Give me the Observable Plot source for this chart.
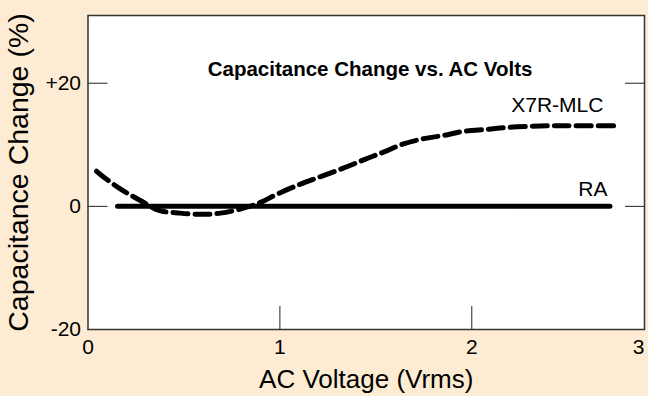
<!DOCTYPE html>
<html>
<head>
<meta charset="utf-8">
<script src="https://cdn.jsdelivr.net/npm/d3@7"></script>
<script src="https://cdn.jsdelivr.net/npm/@observablehq/plot@0.6"></script>
<style>
  html, body { margin: 0; padding: 0; background: #fdecd3; }
  #chart svg { display: block; }
</style>
</head>
<body>
<div id="chart"></div>
<script>
// X7R-MLC capacitance change (%) vs AC voltage (Vrms)
const x7rVolts = [0.045, 0.076, 0.17, 0.27, 0.37, 0.48, 0.59, 0.69, 0.81, 0.90, 0.98, 1.09, 1.20, 1.33, 1.44, 1.54, 1.64, 1.75, 1.85, 1.96, 2.08, 2.18, 2.31, 2.43, 2.54, 2.74];
const x7rChange = [5.7, 4.9, 2.8, 1.0, -0.65, -1.1, -1.3, -1.1, -0.3, 0.65, 1.9, 3.4, 4.7, 6.2, 7.6, 8.8, 10.1, 11.0, 11.5, 12.2, 12.5, 12.8, 13.0, 13.1, 13.1, 13.1];
// RA capacitance change (%)
const raVolts = [0.154, 2.72];
const raChange = [0, 0];

const xTicks = [0, 1, 2, 2.9];
const xTickLabels = ["0", "1", "2", "3"];
const yTicks = [-20, 0, 20];
const yTickLabels = ["-20", "0", "+20"];

const titleText = ["Capacitance Change vs. AC Volts"];
const seriesLabels = ["X7R-MLC", "RA"];
const titleAt = [{x: 1.47, y: 22.3, text: titleText[0]}];
const seriesLabelAt = [
  {x: 2.686, y: 16.4, text: seriesLabels[0]},
  {x: 2.707, y: 2.7, text: seriesLabels[1]}
];

const x7r = x7rVolts.map((v, i) => ({v, c: x7rChange[i]}));
const ra = raVolts.map((v, i) => ({v, c: raChange[i]}));

const font = "'Liberation Sans', Arial, Helvetica, sans-serif";
const fmtX = d => xTickLabels[xTicks.indexOf(d)];

const chart = Plot.plot({
  width: 648,
  height: 396,
  marginLeft: 87.5,
  marginRight: 4,
  marginTop: 15,
  marginBottom: 67,
  style: {background: "#fdecd3", fontFamily: font, color: "#000"},
  x: {domain: [0, 2.9]},
  y: {domain: [-20, 31]},
  marks: [
    Plot.frame({fill: "#fff", stroke: "none"}),
    // inward ticks
    Plot.axisY({ticks: yTicks, anchor: "left", tickSize: -20, tickFormat: () => "", label: null, stroke: "#222"}),
    Plot.axisY({ticks: yTicks.filter(d => d > -20), anchor: "right", tickSize: -20, tickFormat: () => "", label: null, stroke: "#222"}),
    Plot.axisX({ticks: [1, 2], anchor: "bottom", tickSize: -23, tickFormat: () => "", label: null, stroke: "#222"}),
    // tick labels
    Plot.axisY({ticks: yTicks, anchor: "left", tickSize: 0, tickPadding: 7, fontSize: 21,
      tickFormat: d => yTickLabels[yTicks.indexOf(d)], label: null}),
    Plot.axisX({ticks: xTicks.slice(0, 3), anchor: "bottom", tickSize: 0, tickPadding: 10, fontSize: 21,
      tickFormat: fmtX, label: null}),
    Plot.axisX({ticks: xTicks.slice(3), anchor: "bottom", tickSize: 0, tickPadding: 10, fontSize: 21,
      tickFormat: fmtX, label: null, dx: -6}),
    // axis titles
    Plot.axisY({ticks: [], anchor: "left", label: "Capacitance Change (%)", labelAnchor: "center",
      labelArrow: "none", labelOffset: 80, fontSize: 28.5}),
    Plot.axisX({ticks: [], anchor: "bottom", label: "AC Voltage (Vrms)", labelAnchor: "center",
      labelArrow: "none", labelOffset: 58, fontSize: 26}),
    Plot.frame({stroke: "#333", strokeWidth: 1.5}),
    Plot.line(ra, {x: "v", y: "c", stroke: "#000", strokeWidth: 5}),
    Plot.line(x7r, {x: "v", y: "c", stroke: "#000", strokeWidth: 5, strokeDasharray: "15,7", curve: "catmull-rom"}),
    Plot.text(titleAt, {x: "x", y: "y", text: "text", textAnchor: "middle", fontWeight: "bold", fontSize: 20.5, fill: "#000"}),
    Plot.text(seriesLabelAt, {x: "x", y: "y", text: "text", textAnchor: "end", fontSize: 21, fill: "#000"})
  ]
});
document.getElementById("chart").appendChild(chart);
</script>
</body>
</html>
